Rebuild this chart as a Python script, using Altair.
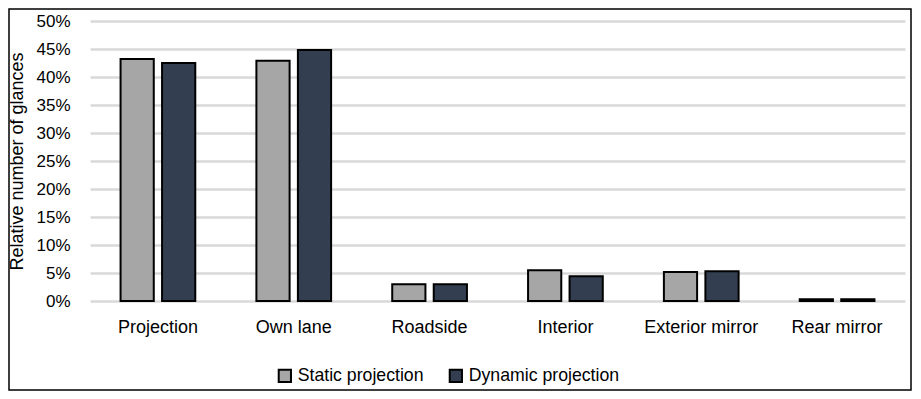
import altair as alt
import pandas as pd

categories = ["Projection", "Own lane", "Roadside", "Interior", "Exterior mirror", "Rear mirror"]
series = ["Static projection", "Dynamic projection"]
static_vals = [0.432, 0.429, 0.030, 0.055, 0.052, 0.003]
dynamic_vals = [0.425, 0.448, 0.030, 0.044, 0.053, 0.003]
colors = ["#a6a6a6", "#333f50"]
y_ticks = [0, 0.05, 0.10, 0.15, 0.20, 0.25, 0.30, 0.35, 0.40, 0.45, 0.50]

rows = []
for c, s, d in zip(categories, static_vals, dynamic_vals):
    rows.append({"category": c, "series": series[0], "value": s})
    rows.append({"category": c, "series": series[1], "value": d})
df = pd.DataFrame(rows)

W, H = 815, 280
PL, PT, PR, PB = 82, 13, 7, 90
FONT = "Liberation Sans"

bars = alt.Chart(df).mark_bar(stroke="black", strokeWidth=2).encode(
    x=alt.X("category:N", sort=categories, title=None,
            scale=alt.Scale(paddingInner=0.45, paddingOuter=0.225),
            axis=alt.Axis(labelAngle=0, labelFontSize=18, labelColor="#000000",
                          labelFont=FONT, ticks=False, domain=False, labelPadding=17)),
    xOffset=alt.XOffset("series:N", sort=series,
                        scale=alt.Scale(paddingInner=0.2, paddingOuter=0)),
    y=alt.Y("value:Q", title="Relative number of glances",
            scale=alt.Scale(domain=[0, 0.5], nice=False),
            axis=alt.Axis(format=".0%", values=y_ticks, labelFontSize=17, labelColor="#000000",
                          labelFont=FONT, ticks=False, domain=False, labelPadding=20,
                          gridColor="#d9d9d9", gridWidth=2.5, titleFont=FONT,
                          titleFontSize=18, titleFontWeight="normal", titleColor="#000000",
                          titlePadding=9)),
    color=alt.Color("series:N", sort=series,
                    scale=alt.Scale(domain=series, range=colors),
                    legend=alt.Legend(title=None, orient="none", direction="horizontal",
                                      legendX=186, legendY=346, symbolType="square",
                                      symbolSize=150, symbolStrokeColor="black",
                                      symbolStrokeWidth=2, labelFontSize=17.7, labelFont=FONT,
                                      labelColor="#000000", columnPadding=21, labelOffset=4)),
)

frame = alt.Chart(alt.Data(values=[{}])).mark_rect(
    fill="transparent", stroke="black", strokeWidth=1.5
).encode(
    x=alt.value(-PL + 1), x2=alt.value(W + PR - 1),
    y=alt.value(-PT + 1), y2=alt.value(H + PB - 1),
)

chart = alt.layer(bars, frame).properties(
    width=W, height=H,
    autosize=alt.AutoSizeParams(type="none"),
    padding={"left": PL, "top": PT, "right": PR, "bottom": PB},
).configure_view(stroke=None).configure_axis(grid=True).configure_axisX(grid=False)

chart.save("out.html", embed_options={"renderer": "svg", "actions": False})
